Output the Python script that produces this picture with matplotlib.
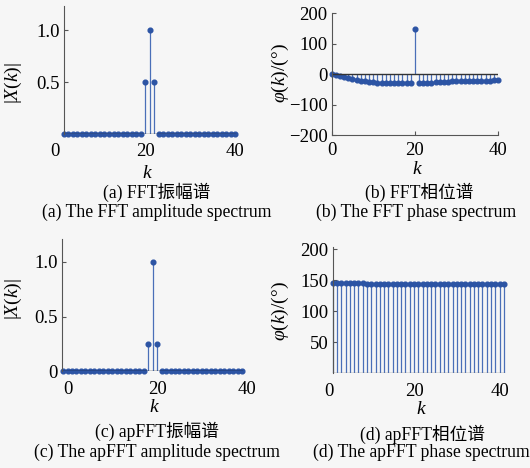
import matplotlib
matplotlib.use("Agg")
import matplotlib.pyplot as plt

plt.rcParams['font.family'] = ['Liberation Serif', 'Noto Sans CJK SC', 'DejaVu Sans']
plt.rcParams['mathtext.fontset'] = 'custom'
plt.rcParams['mathtext.rm'] = 'Liberation Serif'
plt.rcParams['mathtext.it'] = 'Liberation Serif:italic'

# (a) FFT amplitude
k_a = list(range(2, 41))
amp_a = [0.0] * 18 + [0.5, 1.0, 0.5] + [0.0] * 18

# (b) FFT phase (degrees)
k_b = list(range(0, 41))
ph_b = [0, -3, -6, -10, -14, -17, -20, -22, -24, -25, -27, -28, -29, -29, -29,
        -29, -29, -29, -29, -29, 150, -29, -29, -29, -28, -27, -26, -25, -25,
        -24, -24, -23, -23, -22, -22, -22, -21, -21, -21, -20, -20]

# (c) apFFT amplitude
k_c = list(range(-1, 40))
amp_c = [0.0] * 19 + [0.25, 1.0, 0.25] + [0.0] * 19

# (d) apFFT phase (degrees)
k_d = list(range(1, 42))
ph_d = [145, 145, 145, 145, 145, 145, 145, 145, 144, 144, 144, 144, 144, 144,
        144, 144, 144, 144, 144, 144, 144, 144, 144, 144, 144, 144, 144, 144,
        144, 144, 144, 144, 144, 144, 144, 144, 144, 144, 144, 144, 144]

xticks = [0, 20, 40]

captions = [
    ("(a) FFT振幅谱", "(a) The FFT amplitude spectrum"),
    ("(b) FFT相位谱", "(b) The FFT phase spectrum"),
    ("(c) apFFT振幅谱", "(c) The apFFT amplitude spectrum"),
    ("(d) apFFT相位谱", "(d) The apFFT phase spectrum"),
]

W, H = 530, 468
fig = plt.figure(figsize=(W / 100, H / 100), dpi=100)
fig.patch.set_facecolor('#f6f6f6')

stem_col = '#4a6fb8'
dot_col = '#2c54a4'
tick_fs = 13.5
cap_fs = 12.7


def px(x, y):
    return x / W, 1 - y / H


def draw(ax, k, v, base_col):
    markers, stems, base = ax.stem(k, v, basefmt='-')
    stems.set_color(stem_col)
    stems.set_linewidth(0.9)
    markers.set_color(dot_col)
    markers.set_markersize(3.4)
    markers.set_clip_on(False)
    base.set_color(base_col)
    base.set_linewidth(1.0)
    base.set_xdata([k[0], k[-1]])
    ax.set_facecolor('none')
    for s in ['top', 'right']:
        ax.spines[s].set_visible(False)
    ax.spines['left'].set_color('#555555')
    ax.tick_params(axis='both', direction='in', labelsize=tick_fs, length=3,
                   color='#555555', pad=3)
    ax.set_xticks(xticks)


# (a)
ax = fig.add_axes([0.0993, 0.713, 0.3531, 0.274])
draw(ax, k_a, amp_a, '#333333')
ax.set_xlim(-0.5, 41)
ax.set_ylim(0, 1.23)
ax.spines['left'].set_position(('data', 2))
ax.spines['bottom'].set_visible(False)
ax.set_yticks([0.5, 1.0])
ax.set_yticklabels(['0.5', '1.0'])
ax.tick_params(axis='x', length=0, pad=6)

# (b)
ax = fig.add_axes([0.6258, 0.7115, 0.3138, 0.26])
draw(ax, k_b, ph_b, '#333333')
ax.set_xlim(0, 40)
ax.set_ylim(-200, 200)
ax.spines['bottom'].set_color('#555555')
ax.set_yticks([-200, -100, 0, 100, 200])
ax.tick_params(axis='x', pad=5)

# (c)
ax = fig.add_axes([0.1164, 0.2066, 0.349, 0.2827])
draw(ax, k_c, amp_c, '#111111')
ax.set_xlim(-1.3, 40)
ax.set_ylim(0, 1.21)
ax.spines['bottom'].set_visible(False)
ax.set_yticks([0, 0.5, 1.0])
ax.set_yticklabels(['0', '0.5', '1.0'])
ax.tick_params(axis='x', length=0, pad=7)

# (d)
ax = fig.add_axes([0.6117, 0.2024, 0.347, 0.2692])
draw(ax, k_d, ph_d, '#777777')
ax.set_xlim(-1, 42)
ax.set_ylim(0, 203)
ax.spines['left'].set_position(('data', 1))
ax.spines['bottom'].set_visible(False)
ax.set_yticks([50, 100, 150, 200])
ax.tick_params(axis='x', length=0, pad=7)

# axis labels
ylab_pos = [(13, 83), (280, 73), (13, 299), (280, 311)]
ylabs = [r'$|X(k)|$', r'$\varphi(k)$/(°)', r'$|X(k)|$', r'$\varphi(k)$/(°)']
for (x, y), t in zip(ylab_pos, ylabs):
    fig.text(*px(x, y), t, rotation=90, ha='center', va='center', fontsize=14)

xlab_pos = [(147, 173), (417, 169), (154, 408), (421, 409)]
for x, y in xlab_pos:
    fig.text(*px(x, y), r'$k$', ha='center', va='center', fontsize=14)

cap_pos = [((157, 192), (157, 212)), ((419, 192), (416, 212)),
           ((157, 431), (157, 452)), ((422, 434), (421, 452))]
for (p1, p2), (c1, c2) in zip(cap_pos, captions):
    fig.text(*px(*p1), c1, ha='center', va='center', fontsize=cap_fs)
    fig.text(*px(*p2), c2, ha='center', va='center', fontsize=cap_fs)

fig.savefig('out.png', dpi=100, facecolor=fig.get_facecolor())
